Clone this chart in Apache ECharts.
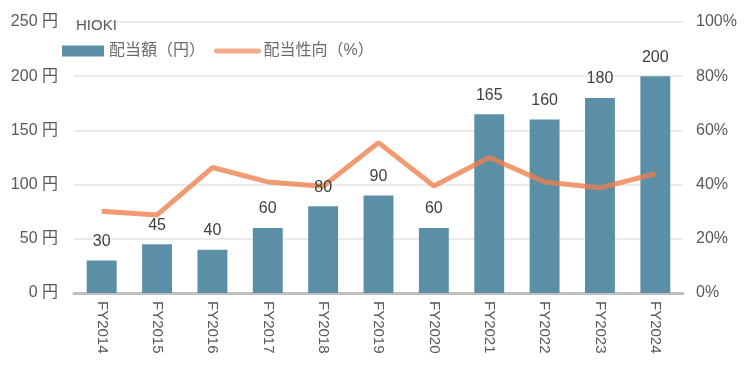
<!DOCTYPE html>
<html>
<head>
<meta charset="utf-8">
<script src="https://cdn.jsdelivr.net/npm/echarts@6/dist/echarts.min.js"></script>
<style>
html, body { margin: 0; padding: 0; background: #fff; }
#chart { width: 750px; height: 377px; }
</style>
</head>
<body>
<div id="chart"></div>
<script>
var years = ['FY2014', 'FY2015', 'FY2016', 'FY2017', 'FY2018', 'FY2019', 'FY2020', 'FY2021', 'FY2022', 'FY2023', 'FY2024'];
var dividend = [30, 45, 40, 60, 80, 90, 60, 165, 160, 180, 200];
var payout = [30.2, 28.8, 46.3, 41, 39.4, 55.5, 39.5, 50, 41, 38.8, 44];

var font = '"Liberation Sans", "Noto Sans CJK JP", sans-serif';

var myChart = echarts.init(document.getElementById('chart'));
var option = {
	animation: false,
	textStyle: { fontFamily: font },
	title: {
		text: 'HIOKI',
		left: 71, top: 13,
		textStyle: { fontSize: 15, color: '#595959', fontWeight: 'normal', fontFamily: font }
	},
	legend: {
		left: 57, top: 38,
		itemGap: 9,
		itemWidth: 42, itemHeight: 11,
		textStyle: { fontSize: 16, color: '#6b6b6b', fontFamily: font },
		data: [
			{ name: '配当額（円）', icon: 'rect' },
			{
				name: '配当性向（%）',
				itemStyle: { opacity: 0 },
				lineStyle: { width: 5, color: '#f0956a', cap: 'round' }
			}
		]
	},
	grid: { left: 74, right: 67, top: 22, bottom: 84 },
	xAxis: {
		type: 'category',
		data: years,
		axisLine: { lineStyle: { color: '#bfbfbf', width: 3 } },
		axisTick: { show: false },
		axisLabel: { rotate: -90, color: '#595959', fontSize: 15, margin: 8 }
	},
	yAxis: [
		{
			type: 'value', min: 0, max: 250, interval: 50,
			axisLabel: { formatter: '{value} 円', color: '#595959', fontSize: 16, margin: 16 },
			splitLine: { lineStyle: { color: '#ebebeb', width: 2 } },
			axisLine: { show: false }
		},
		{
			type: 'value', min: 0, max: 100, interval: 20,
			axisLabel: { formatter: '{value}%', color: '#595959', fontSize: 16, margin: 13 },
			splitLine: { show: false },
			axisLine: { show: false }
		}
	],
	series: [
		{
			name: '配当額（円）',
			type: 'bar',
			data: dividend,
			barWidth: '54%',
			itemStyle: { color: '#5b8fa8' },
			z: 2
		},
		{
			name: '配当性向（%）',
			type: 'line',
			yAxisIndex: 1,
			data: payout,
			symbol: 'none',
			lineStyle: { color: '#ee7f4a', width: 5, opacity: 0.78 },
			itemStyle: { color: '#f0956a' },
			z: 3
		},
		{
			// labels only, drawn above the line
			name: 'labels',
			type: 'bar',
			data: dividend,
			barWidth: '54%',
			barGap: '-100%',
			itemStyle: { color: 'rgba(0,0,0,0)' },
			label: { show: true, position: 'top', distance: 11, color: '#404040', fontSize: 16 },
			silent: true,
			z: 5
		}
	]
};
myChart.setOption(option);
</script>
</body>
</html>
